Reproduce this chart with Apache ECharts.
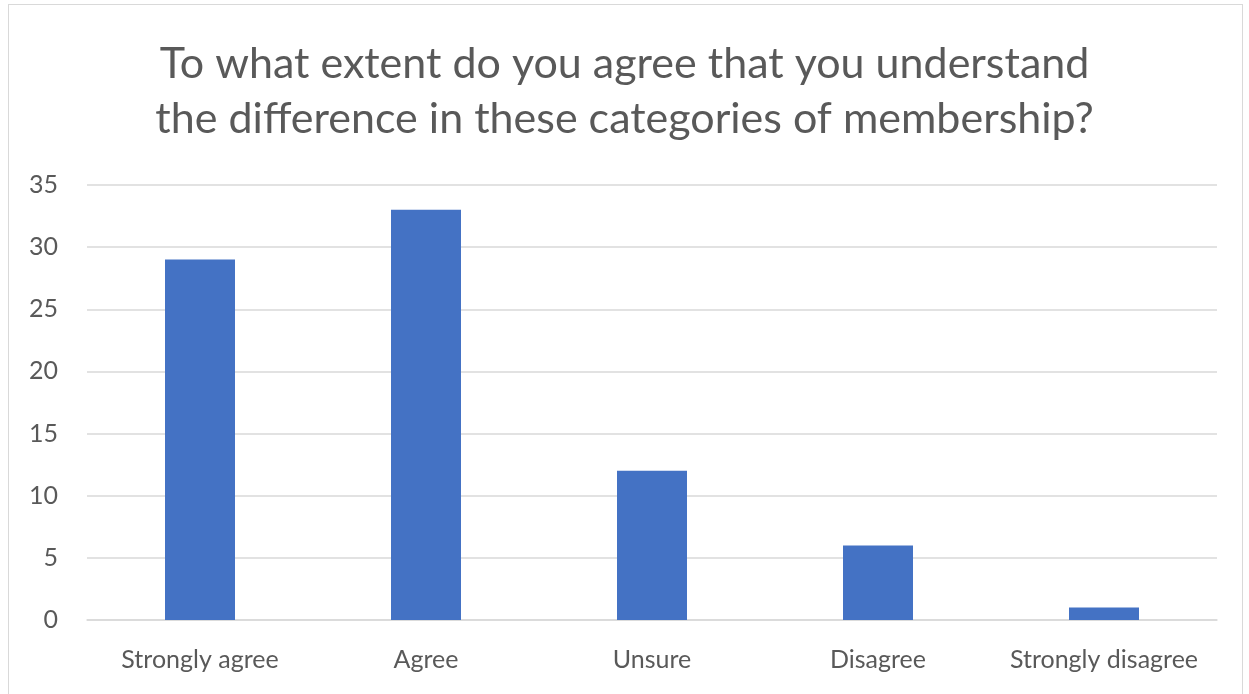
<!DOCTYPE html>
<html><head><meta charset="utf-8">
<script src="https://cdn.jsdelivr.net/npm/echarts@6/dist/echarts.min.js"></script>
<style>
html,body{margin:0;padding:0;background:#fff;}
#frame{position:absolute;left:8px;top:4px;width:1235px;height:700px;border:1.5px solid #d9d9d9;box-sizing:border-box;}
#c{position:absolute;left:0;top:0;width:1249px;height:694px;}
</style></head>
<body>
<div id="frame"></div>
<div id="c"></div>
<script>
const titleText = "To what extent do you agree that you understand\nthe difference in these categories of membership?";
const categories = ["Strongly agree", "Agree", "Unsure", "Disagree", "Strongly disagree"];
const values = [29, 33, 12, 6, 1];
const yTicks = [0, 5, 10, 15, 20, 25, 30, 35];

const font = "Lato, 'Open Sans', sans-serif";
const chart = echarts.init(document.getElementById('c'), null, {renderer: 'canvas'});
chart.setOption({
  animation: false,
  backgroundColor: 'transparent',
  title: {
    text: titleText,
    left: 'center',
    top: 32,
    textStyle: {fontFamily: font, fontSize: 43, fontWeight: 'normal', color: '#595959', lineHeight: 55}
  },
  grid: {left: 87, right: 32, top: 185, bottom: 74, containLabel: false},
  xAxis: {
    type: 'category',
    data: categories,
    axisLine: {lineStyle: {color: '#d9d9d9', width: 1.5}},
    axisTick: {show: false},
    axisLabel: {fontFamily: font, fontSize: 25, color: '#595959', margin: 27, interval: 0, hideOverlap: false}
  },
  yAxis: {
    type: 'value',
    min: yTicks[0],
    max: yTicks[yTicks.length - 1],
    interval: 5,
    axisLine: {show: false},
    axisTick: {show: false},
    splitLine: {lineStyle: {color: '#d9d9d9', width: 1.5}},
    axisLabel: {fontFamily: font, fontSize: 25, color: '#595959', margin: 29}
  },
  series: [{
    type: 'bar',
    data: values,
    barWidth: 70,
    itemStyle: {color: '#4472C4'}
  }]
});
</script>
</body></html>
